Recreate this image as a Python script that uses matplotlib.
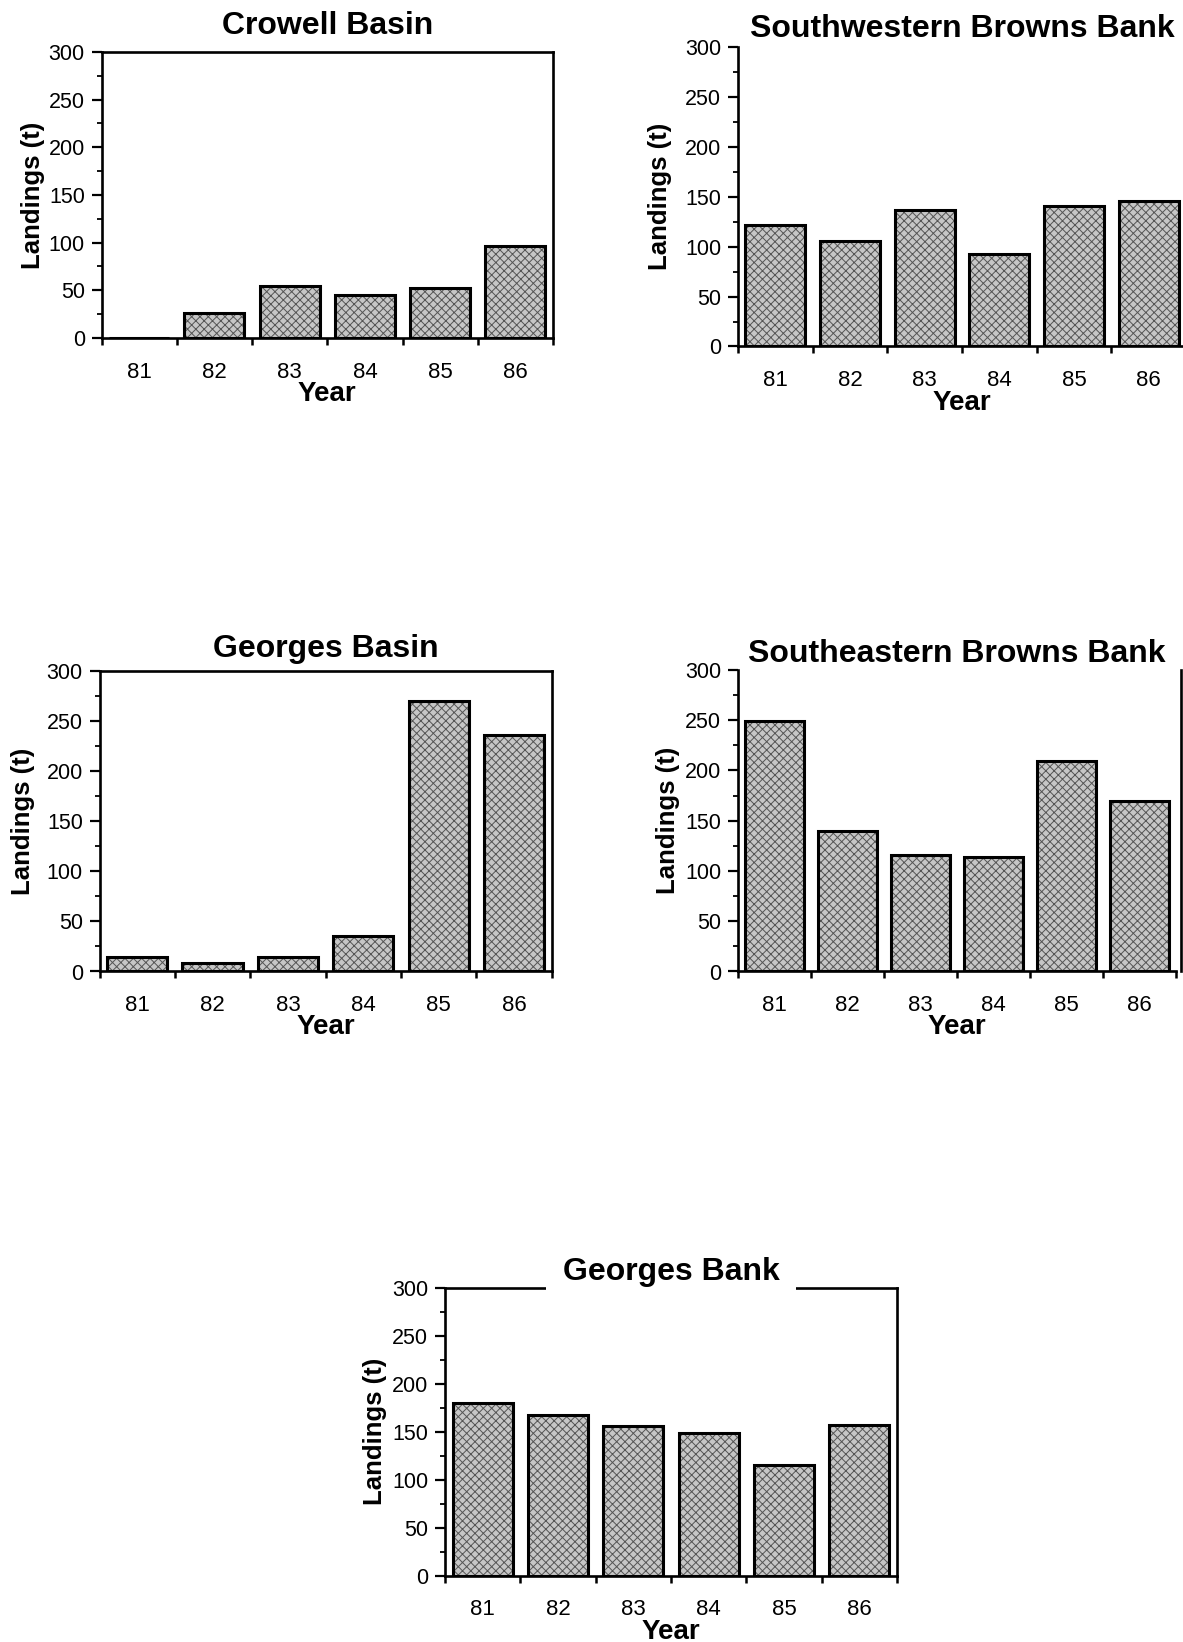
import matplotlib
matplotlib.use("Agg")
import matplotlib.pyplot as plt
from matplotlib.ticker import MultipleLocator

plt.rcParams['font.family'] = ['Liberation Sans', 'DejaVu Sans']
plt.rcParams['hatch.linewidth'] = 0.7

# landings (t) by year
years = ['81', '82', '83', '84', '85', '86']
crowell_basin = [0, 26, 55, 45, 52, 97]
sw_browns_bank = [122, 106, 137, 93, 141, 146]
georges_basin = [14, 8, 14, 35, 270, 236]
se_browns_bank = [249, 140, 116, 114, 209, 170]
georges_bank = [180, 167, 156, 149, 115, 157]

W, H = 1183, 1642
fig = plt.figure(figsize=(W / 100, H / 100), dpi=100)


def px_axes(left, top, right, bottom):
    return fig.add_axes([left / W, 1 - bottom / H, (right - left) / W, (bottom - top) / H])


def panel(ax, values, title, title_pad, hide=(), ylab_x=-0.14, title_box=False):
    x = list(range(len(years)))
    # halftone-ish fill, then the black outlines on top
    ax.bar(x, values, width=0.8, color='#c6c6c6', hatch='xxxx', edgecolor='#555555',
           linewidth=0, zorder=2)
    ax.bar(x, values, width=0.8, fill=False, edgecolor='black', linewidth=2.2, zorder=3)
    ax.set_xlim(-0.5, len(years) - 0.5)
    ax.set_ylim(0, 300)

    ax.set_xticks([i - 0.5 for i in range(len(years) + 1)])
    ax.set_xticklabels([])
    ax.set_xticks(x, labels=years, minor=True)
    ax.tick_params(axis='x', which='major', length=5, width=1.8, direction='out')
    ax.tick_params(axis='x', which='minor', length=0, pad=17, labelsize=16)

    ax.yaxis.set_major_locator(MultipleLocator(50))
    ax.yaxis.set_minor_locator(MultipleLocator(25))
    ax.tick_params(axis='y', which='major', length=7, width=1.6, pad=5, labelsize=15.5)
    ax.tick_params(axis='y', which='minor', length=3.5, width=1.3)

    for s in ax.spines.values():
        s.set_linewidth(1.9)
    for s in hide:
        ax.spines[s].set_visible(False)

    ax.set_ylabel('Landings (t)', fontsize=18.5, fontweight='bold')
    ax.yaxis.set_label_coords(ylab_x, 0.5)
    ax.set_xlabel('Year', fontsize=20, fontweight='bold')
    h_px = ax.get_position().height * H
    ax.xaxis.set_label_coords(0.5, -43 / h_px)

    t = ax.set_title(title, fontsize=23, fontweight='bold', pad=title_pad)
    if title_box:
        t.set_bbox(dict(facecolor='white', edgecolor='none', pad=12))
        t.set_zorder(5)


ax1 = px_axes(101.5, 52, 553, 338)
panel(ax1, crowell_basin, 'Crowell Basin', 13, ylab_x=-0.126)

ax2 = px_axes(738, 47, 1186, 346.5)
panel(ax2, sw_browns_bank, 'Southwestern Browns Bank', 7, hide=('top', 'right'), ylab_x=-0.148)

ax3 = px_axes(99.5, 671, 551.7, 971.5)
panel(ax3, georges_basin, 'Georges Basin', 10, ylab_x=-0.143)

ax4 = px_axes(738, 670, 1176, 971.5)
panel(ax4, se_browns_bank, 'Southeastern Browns Bank', 6, hide=('top',), ylab_x=-0.133)
ax4.spines['right'].set_position(('axes', 1.012))

ax5 = px_axes(445, 1288, 897, 1575.5)
panel(ax5, georges_bank, 'Georges Bank', 6, ylab_x=-0.128, title_box=True)

fig.savefig('out.png', dpi=100, facecolor='white')
